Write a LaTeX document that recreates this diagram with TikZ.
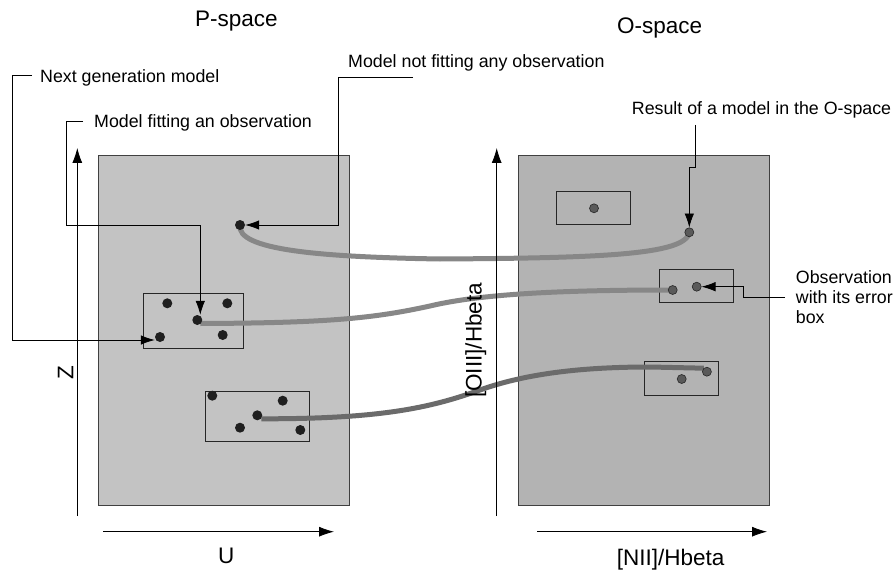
\documentclass[tikz,border=0pt]{standalone}
\usepackage{fontspec}
\setmainfont{Liberation Sans}
\usetikzlibrary{arrows.meta}
\definecolor{pfill}{HTML}{C3C3C3}
\definecolor{ofill}{HTML}{B3B3B3}
\definecolor{trackA}{HTML}{878787}
\definecolor{trackB}{HTML}{6B6B6B}
\definecolor{odotc}{HTML}{5A5A5A}
\begin{document}
\begin{tikzpicture}[x=1pt,y=-1pt,
  annot/.style={font=\fontsize{17.8}{20}\selectfont, anchor=base west, inner sep=0pt},
  big/.style={font=\fontsize{22.5}{26}\selectfont, anchor=base west, inner sep=0pt},
  panel/.style={draw=black!75, line width=0.8pt},
  ebox/.style={draw=black!85, line width=0.8pt},
  pdot/.style={circle, fill=black!88, minimum size=10pt, inner sep=0pt},
  odot/.style={circle, fill=odotc, draw=black!85, line width=0.6pt, minimum size=9pt, inner sep=0pt},
  lead/.style={draw=black, line width=0.8pt, -{Latex[length=14pt,width=9.5pt]}},
  axis/.style={draw=black, line width=0.8pt, -{Latex[length=15pt,width=10pt]}},
  track/.style={line width=5pt, draw=trackA},
]
\useasboundingbox (0,0) rectangle (896,572);
\fill[white] (0,0) rectangle (896,572);

% panels
\draw[panel, fill=pfill] (98.7,155.3) rectangle (349.7,505.7);
\draw[panel, fill=ofill] (518.3,155.3) rectangle (769,505.7);

% error boxes
\draw[ebox] (143.3,293.7) rectangle (243.7,348.7);
\draw[ebox] (205.3,391) rectangle (309,441.3);
\draw[ebox] (556.7,191.3) rectangle (630.3,224);
\draw[ebox] (659.3,269.3) rectangle (733.3,302.3);
\draw[ebox] (644.3,361.7) rectangle (718.3,395);

% dot positions (nodes drawn later, coordinates first)
\coordinate (cp1) at (240,225);
\coordinate (cp2c) at (197.3,320);
\coordinate (cp3c) at (257.3,415.3);
\coordinate (co1) at (689.3,232.3);
\coordinate (co2a) at (672.7,290);
\coordinate (co3b) at (706.9,371.7);

% tracks
\draw[track] (cp1) .. controls (236,250) and (320,257) .. (440,259)
  .. controls (600,258) and (686,255) .. (co1);
\draw[track] ([xshift=3pt,yshift=-3.5pt]cp2c) .. controls (330,323) and (375,318) .. (430,306)
  .. controls (480,294) and (560,290) .. (co2a);
\draw[track, draw=trackB] ([xshift=4pt,yshift=-3.5pt]cp3c) .. controls (380,419) and (430,408) .. (480,390)
  .. controls (530,372) and (590,367) .. (650,367) -- ([xshift=-3pt,yshift=3.5pt]co3b);

% P-space dots
\node[pdot] (p1) at (cp1) {};
\node[pdot] (p2a) at (167.3,303.3) {};
\node[pdot] (p2b) at (227.3,303.3) {};
\node[pdot] (p2c) at (cp2c) {};
\node[pdot] (p2d) at (222.7,335) {};
\node[pdot] (p2e) at (160,337) {};
\node[pdot] (p3a) at (212.3,395.7) {};
\node[pdot] (p3b) at (282.7,400.7) {};
\node[pdot] (p3c) at (cp3c) {};
\node[pdot] (p3d) at (240,427.7) {};
\node[pdot] (p3e) at (300.3,430) {};

% O-space dots
\node[odot] (oA) at (594,208.3) {};
\node[odot] (o1) at (co1) {};
\node[odot] (o2a) at (co2a) {};
\node[odot] (o2b) at (696.7,286.7) {};
\node[odot] (o3a) at (681.7,379) {};
\node[odot] (o3b) at (co3b) {};

% labels
\node[big] (ptitle) at (195,26.7) {P-space};
\node[big] (otitle) at (617,34) {O-space};
\node[annot] (lnext) at (40,83) {Next generation model};
\node[annot] (lfit) at (94,128) {Model fitting an observation};
\node[annot] (lnofit) at (348,67.7) {Model not fitting any observation};
\node[annot] (lres) at (631.7,114.3) {Result of a model in the O-space};
\node[annot] (lobs1) at (795.7,283.3) {Observation};
\node[annot] (lobs2) at (795.7,303.3) {with its error};
\node[annot] (lobs3) at (795.7,323.3) {box};
\node[big] (lu) at (218,563) {U};
\node[big] (lnii) at (616.7,565.7) {[NII]/Hbeta};
\node[big, rotate=90] (lz) at (73.3,380) {Z};
\node[big, rotate=90] (loiii) at (481.7,398) {[OIII]/Hbeta};

% leader start points
\coordinate (snext) at (32,75);
\coordinate (sfit) at (83,121.7);
\coordinate (snofit) at (413,77.7);
\coordinate (sres) at (695,125);
\coordinate (sobs) at (785,297);

% leaders
\draw[lead] (snext) -- (12,75) |- ([yshift=-3pt]p2e.west);
\draw[lead] (sfit) -- (66,121.7) -- (66,225.7) -| ([xshift=3pt]p2c.north);
\draw[lead] (snofit) -- (338,77.7) |- (p1.east);
\draw[lead] (sres) -- (695,167) -| (o1.north);
\draw[lead] (sobs) -| (743,286.7) -- (o2b.east);

% axes
\coordinate (az0) at (77.3,516);
\coordinate (az1) at (77.3,148);
\coordinate (ao0) at (496.7,516);
\coordinate (ao1) at (496.7,148);
\coordinate (au0) at (103,531.7);
\coordinate (au1) at (334,531.7);
\coordinate (an0) at (537,531.7);
\coordinate (an1) at (767,531.7);
\draw[axis] (az0) -- (az1);
\draw[axis] (ao0) -- (ao1);
\draw[axis] (au0) -- (au1);
\draw[axis] (an0) -- (an1);
\end{tikzpicture}
\end{document}
